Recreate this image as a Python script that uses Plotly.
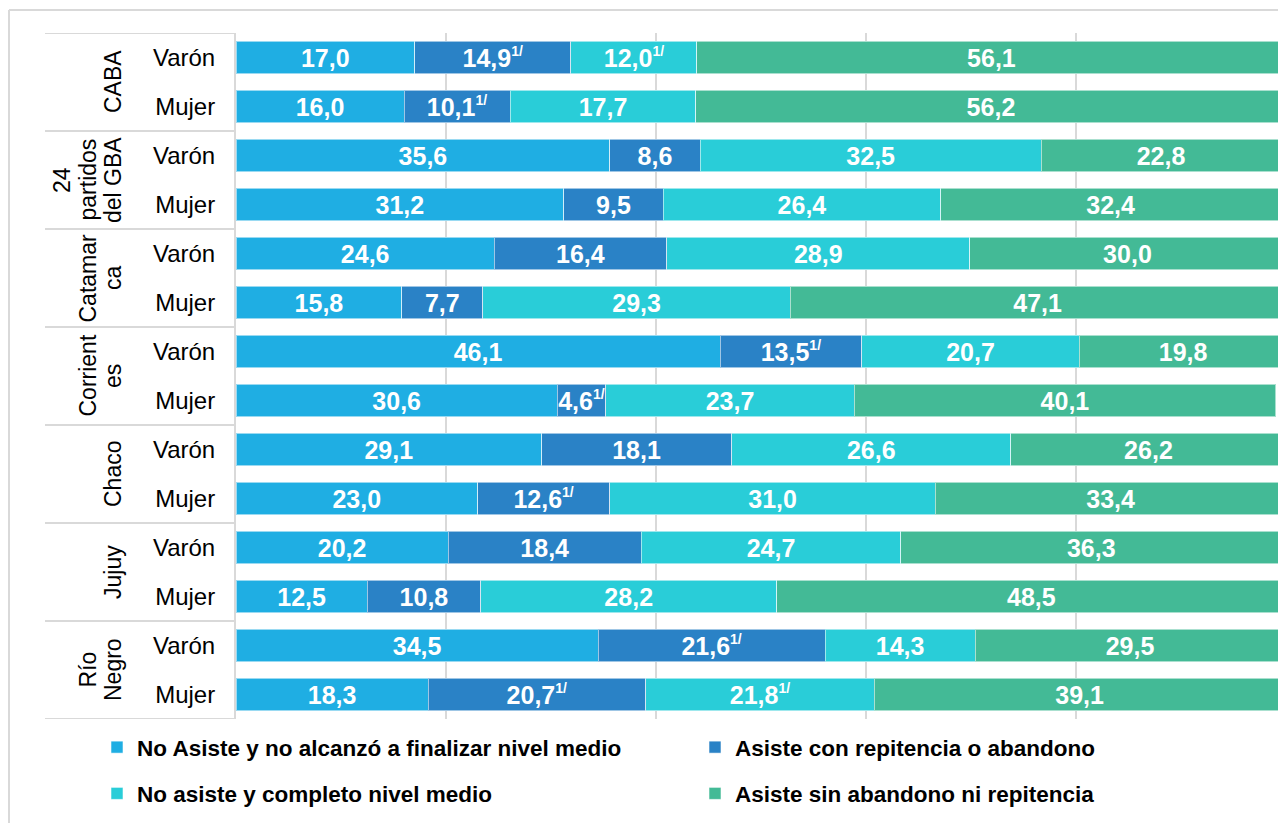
import plotly.graph_objects as go

# grupos (etiquetas rotadas, con los mismos cortes de línea del original)
regiones = ["CABA", "24\npartidos\ndel GBA", "Catamar\nca", "Corrient\nes",
            "Chaco", "Jujuy", "Río\nNegro"]
sexos = ["Varón", "Mujer"]

series = [
    "No Asiste y no alcanzó a finalizar nivel medio",
    "Asiste con repitencia o abandono",
    "No asiste y completo nivel medio",
    "Asiste sin abandono ni repitencia",
]
colores = ["#1FAEE3", "#2A82C6", "#29CDD8", "#43BA96"]

# filas: CABA V, CABA M, GBA V, GBA M, ... Río Negro V, Río Negro M
no_asiste_incompleto = [17.0, 16.0, 35.6, 31.2, 24.6, 15.8, 46.1, 30.6, 29.1, 23.0, 20.2, 12.5, 34.5, 18.3]
asiste_repitencia = [14.9, 10.1, 8.6, 9.5, 16.4, 7.7, 13.5, 4.6, 18.1, 12.6, 18.4, 10.8, 21.6, 20.7]
no_asiste_completo = [12.0, 17.7, 32.5, 26.4, 28.9, 29.3, 20.7, 23.7, 26.6, 31.0, 24.7, 28.2, 14.3, 21.8]
asiste_regular = [56.1, 56.2, 22.8, 32.4, 30.0, 47.1, 19.8, 40.1, 26.2, 33.4, 36.3, 48.5, 29.5, 39.1]

# llamada 1/ en la etiqueta
nota_incompleto = [0] * 14
nota_repitencia = [1, 1, 0, 0, 0, 0, 1, 1, 0, 1, 0, 0, 1, 1]
nota_completo = [1, 0, 0, 0, 0, 0, 0, 0, 0, 0, 0, 0, 0, 1]
nota_regular = [0] * 14

valores = [no_asiste_incompleto, asiste_repitencia, no_asiste_completo, asiste_regular]
notas = [nota_incompleto, nota_repitencia, nota_completo, nota_regular]

# coordenadas de la ventana; la página deja 8px de margen en el body
W, H = 1286, 823
OFF = 8
L, T, BOT = 236, 33, 719
FONT = "Arial, 'Liberation Sans', sans-serif"
GRID = "#D9D9D9"


def px2x(px):
    return (px - L) / (W - L)


def py2y(py):
    return (BOT - py) / (BOT - T)


def etiqueta(v, nota):
    s = f"{v:.1f}".replace(".", ",")
    if nota:
        s += "<sup><span style='font-size:14px'>1/</span></sup>"
    return s


filas = list(range(len(regiones) * len(sexos)))
ticktext = sexos * len(regiones)

fig = go.Figure()
for i, (nombre, color, vals, nts) in enumerate(zip(series, colores, valores, notas)):
    fig.add_trace(go.Bar(
        x=vals, y=filas, orientation="h", name=nombre,
        text=[etiqueta(v, n) for v, n in zip(vals, nts)],
        textposition="inside", insidetextanchor="middle", textangle=0,
        textfont=dict(color="white", size=25, family=FONT, weight="bold"),
        marker=dict(color=color, line=dict(color="rgba(255,255,255,0.55)", width=1)),
        legend="legend" if i % 2 == 0 else "legend2",
        legendgroup=nombre,
        hoverinfo="x+name",
    ))

shapes = []
# separadores de grupos en la columna de etiquetas
for k in range(len(regiones) + 1):
    shapes.append(dict(type="line", xref="paper", yref="y",
                       x0=px2x(45), x1=0, y0=2 * k - 0.5, y1=2 * k - 0.5,
                       line=dict(color=GRID, width=2)))
# marco exterior
shapes.append(dict(type="line", xref="paper", yref="paper",
                   x0=px2x(9), x1=px2x(9), y0=py2y(10), y1=py2y(H),
                   line=dict(color=GRID, width=2)))
shapes.append(dict(type="line", xref="paper", yref="paper",
                   x0=px2x(9), x1=1.0, y0=py2y(10), y1=py2y(10),
                   line=dict(color=GRID, width=2)))

annotations = []
for k, reg in enumerate(regiones):
    lineas = reg.split("\n")
    n = len(lineas)
    for j, txt in enumerate(lineas):
        annotations.append(dict(
            text=txt, xref="paper", yref="y",
            x=px2x(113 - (n - 1 - j) * 25.5), y=2 * k + 0.5,
            xanchor="center", yanchor="middle", textangle=-90,
            showarrow=False, font=dict(size=23, color="#000000", family=FONT),
        ))

leyenda = dict(
    xanchor="left", yanchor="top", y=py2y(726),
    font=dict(size=22.5, color="#000000", family=FONT, weight="bold"),
    bgcolor="rgba(0,0,0,0)", traceorder="grouped", tracegroupgap=14,
)

fig.update_layout(
    width=W - OFF, height=H - OFF,
    margin=dict(l=L - OFF, r=0, t=T - OFF, b=H - BOT),
    barmode="stack", bargap=0.33,
    plot_bgcolor="white", paper_bgcolor="white",
    font=dict(family=FONT, color="#000000"),
    xaxis=dict(range=[0, 100], dtick=20, showgrid=True, gridcolor=GRID, gridwidth=2,
               showticklabels=False, zeroline=False, showline=False),
    yaxis=dict(tickmode="array", tickvals=filas, ticktext=ticktext,
               range=[len(filas) - 0.5, -0.5], showgrid=False, zeroline=False,
               showline=True, linecolor=GRID, linewidth=2, ticks="",
               ticklabelstandoff=14, tickfont=dict(size=24, color="#000000")),
    legend=dict(leyenda, x=px2x(97)),
    legend2=dict(leyenda, x=px2x(695)),
    shapes=shapes,
    annotations=annotations,
    uniformtext=dict(minsize=25, mode="show"),
)

fig.write_html("out.html")
